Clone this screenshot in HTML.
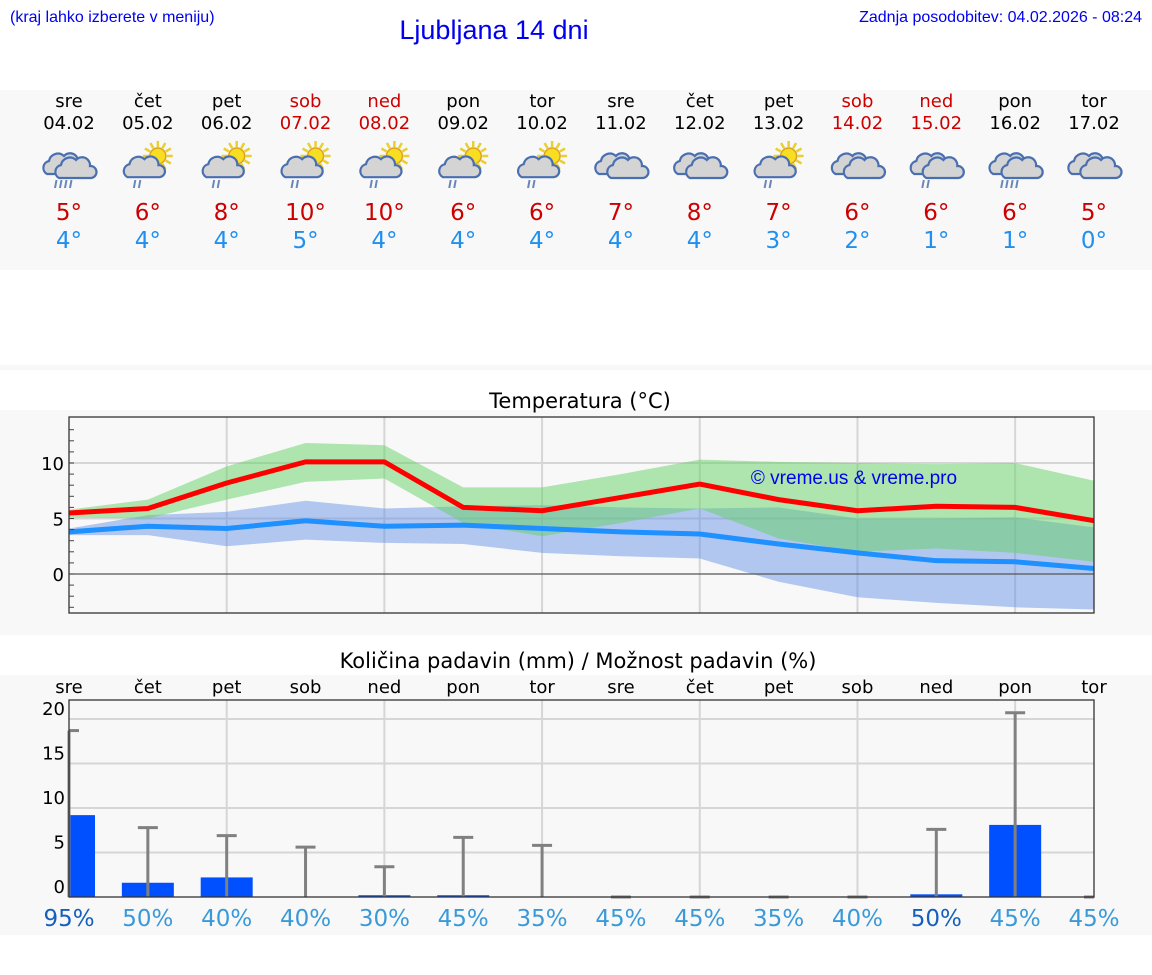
<!DOCTYPE html>
<html><head><meta charset="utf-8">
<style>
body{margin:0;width:1152px;height:975px;background:#fff;overflow:hidden;font-family:"DejaVu Sans","Liberation Sans",sans-serif;}
svg{display:block}
</style></head>
<body>
<svg id="page" width="1152" height="975" xmlns="http://www.w3.org/2000/svg">
<text x="10" y="22" font-family="Liberation Sans" font-size="16" fill="#0000ee">(kraj lahko izberete v meniju)</text>
<text x="494" y="39" text-anchor="middle" font-family="Liberation Sans" font-size="27" fill="#0000ee">Ljubljana 14 dni</text>
<text x="1142" y="22" text-anchor="end" font-family="Liberation Sans" font-size="16" fill="#0000ee">Zadnja posodobitev: 04.02.2026 - 08:24</text>
<rect x="0" y="90" width="1152" height="180" fill="#f8f8f8"/>
<rect x="0" y="365" width="1152" height="5" fill="#f8f8f8"/>
<rect x="0" y="410" width="1152" height="225" fill="#f8f8f8"/>
<rect x="0" y="675" width="1152" height="260" fill="#f8f8f8"/>
<g id="days"></g>
<text x="580" y="408" text-anchor="middle" font-size="21" fill="#000">Temperatura (°C)</text>
<g id="temp"></g>
<text x="578" y="668" text-anchor="middle" font-size="21" fill="#000">Količina padavin (mm) / Možnost padavin (%)</text>
<g id="prec"></g>
</svg>
<script>
const dayNames=["sre","čet","pet","sob","ned","pon","tor","sre","čet","pet","sob","ned","pon","tor"];
const dates=["04.02","05.02","06.02","07.02","08.02","09.02","10.02","11.02","12.02","13.02","14.02","15.02","16.02","17.02"];
const weekend=[0,0,0,1,1,0,0,0,0,0,1,1,0,0];
const icons=["rain","sunrain","sunrain","sunrain","sunrain","sunrain","sunrain","cloud","cloud","sunrain","cloud","rain2","rain","cloud"];
const tMax=[5,6,8,10,10,6,6,7,8,7,6,6,6,5];
const tMin=[4,4,4,5,4,4,4,4,4,3,2,1,1,0];
const redLine=[5.5,5.9,8.2,10.1,10.1,6.0,5.7,6.9,8.1,6.7,5.7,6.1,6.0,4.8];
const blueLine=[3.8,4.3,4.1,4.8,4.3,4.4,4.1,3.8,3.6,2.7,1.9,1.2,1.1,0.5];
const greenHi=[5.8,6.7,9.7,11.8,11.6,7.8,7.8,9.0,10.3,10.1,10.0,9.9,10.0,8.4];
const greenLo=[5.1,5.0,6.7,8.3,8.6,4.6,3.4,4.6,5.9,3.2,2.0,2.3,1.9,1.1];
const blueHi=[4.1,5.3,5.6,6.6,5.9,6.1,6.2,6.0,5.9,6.0,5.0,5.0,5.1,4.2];
const blueLo=[3.5,3.5,2.5,3.1,2.8,2.7,1.9,1.6,1.4,-0.7,-2.1,-2.6,-3.0,-3.2];
const tempTicks=[0,5,10];
const precAmount=[9.2,1.6,2.2,0,0.2,0.2,0,0,0,0,0,0.3,8.1,0];
const precMax=[18.7,7.8,6.9,5.6,3.4,6.7,5.8,0,0,0,0,7.6,20.7,0];
const precProb=[95,50,40,40,30,45,35,45,45,35,40,50,45,45];
const precTicks=[0,5,10,15,20];
const NS="http://www.w3.org/2000/svg";
function mk(p,t,a,txt){const e=document.createElementNS(NS,t);for(const k in a)e.setAttribute(k,a[k]);if(txt!==undefined)e.textContent=txt;p.appendChild(e);return e;}
const X0=69,X1=1094,step=(X1-X0)/13;
const xi=i=>X0+i*step;
const dg=document.getElementById('days');
function cloud(g,cx,cy,s){
 const p="M"+(cx-16*s)+","+(cy+8*s)+" a7,7 0 0 1 2,-13 a9,9 0 0 1 15,-5 a8,8 0 0 1 14,6 a6,6 0 0 1 1,12 z";
 mk(g,'path',{d:p,fill:'#d4d4d4',stroke:'#4a6fb0','stroke-width':2.2});
}
function rain(g,cx,cy,n){for(let k=0;k<n;k++){mk(g,'line',{x1:cx-6+k*5+1.5,y1:cy,x2:cx-6+k*5,y2:cy+8,stroke:'#6a86b8','stroke-width':2});}}
function sun(g,cx,cy){for(let a=0;a<360;a+=30){const r=a*Math.PI/180;mk(g,'line',{x1:cx+Math.cos(r)*9,y1:cy+Math.sin(r)*9,x2:cx+Math.cos(r)*15,y2:cy+Math.sin(r)*15,stroke:'#e8d030','stroke-width':2.5});}mk(g,'circle',{cx:cx,cy:cy,r:8,fill:'#f8de20',stroke:'#e0a020','stroke-width':1.5});}
for(let i=0;i<14;i++){
 const x=xi(i);const g=mk(dg,'g',{});
 
 
 const c=weekend[i]?'#cc0000':'#000';
 mk(g,'text',{x:x,y:107,'text-anchor':'middle','font-size':18,fill:c},dayNames[i]);
 mk(g,'text',{x:x,y:129,'text-anchor':'middle','font-size':18,fill:c},dates[i]);
 const ic=mk(g,'g',{});
 
 
 const t=icons[i];
 if(t=='sunrain'){sun(ic,x+10,156);cloud(ic,x-6,170,0.9);rain(ic,x-8,180,2);}
 else if(t=='cloud'){cloud(ic,x-6,166,1);cloud(ic,x+6,170,1);}
 else {cloud(ic,x-6,166,1);cloud(ic,x+6,170,1);rain(ic,x-8,180,t=='rain2'?2:4);}
 mk(g,'text',{x:x,y:220,'text-anchor':'middle','font-size':23,fill:'#cc0000'},tMax[i]+'°');
 mk(g,'text',{x:x,y:248,'text-anchor':'middle','font-size':23,fill:'#2090f0'},tMin[i]+'°');
}
const tg=document.getElementById('temp');
const TT=417,TB=613;const ty=v=>574-11.1*v;
mk(tg,'rect',{x:X0,y:TT,width:X1-X0,height:TB-TT,fill:'#f8f8f8'});
for(let i=2;i<13;i+=2)mk(tg,'line',{x1:xi(i),y1:TT,x2:xi(i),y2:TB,stroke:'#d6d6d6','stroke-width':2});
for(const v of [5,10])mk(tg,'line',{x1:X0,y1:ty(v),x2:X1,y2:ty(v),stroke:'#d6d6d6','stroke-width':2});
function band(hi,lo,fill,name){let d='';for(let i=0;i<14;i++)d+=(i?'L':'M')+xi(i)+','+ty(hi[i]);for(let i=13;i>=0;i--)d+='L'+xi(i)+','+ty(lo[i]);const p=mk(tg,'path',{d:d+'Z',fill:fill});}
band(blueHi,blueLo,'rgba(90,140,230,0.45)','min-temp-range');
band(greenHi,greenLo,'rgba(100,210,100,0.5)','max-temp-range');
mk(tg,'line',{x1:X0,y1:ty(0),x2:X1,y2:ty(0),stroke:'#555','stroke-width':1.3});
function line(v,col,name){const p=mk(tg,'polyline',{points:v.map((y,i)=>xi(i)+','+ty(y)).join(' '),fill:'none',stroke:col,'stroke-width':5,'stroke-linejoin':'round'});}
line(redLine,'#ff0000','max-temp-line');
line(blueLine,'#1e90ff','min-temp-line');
mk(tg,'text',{x:854,y:484,'text-anchor':'middle','font-family':'Liberation Sans','font-size':19,fill:'#0000ee'},'© vreme.us & vreme.pro');
mk(tg,'rect',{x:X0,y:TT,width:X1-X0,height:TB-TT,fill:'none',stroke:'#333','stroke-width':1.3});
for(let v=-3;v<=13;v++){mk(tg,'line',{x1:X0,y1:ty(v),x2:X0+5,y2:ty(v),stroke:'#444','stroke-width':1});}
for(const v of tempTicks){const t=mk(tg,'text',{x:X0-5,y:ty(v)+7,'text-anchor':'end','font-size':18,fill:'#000'},String(v));}
const pg=document.getElementById('prec');
const PT=700,PB=897;const py=v=>PB-8.9*v;
mk(pg,'rect',{x:X0,y:PT,width:X1-X0,height:PB-PT,fill:'#f8f8f8'});
for(let i=2;i<13;i+=2)mk(pg,'line',{x1:xi(i),y1:PT,x2:xi(i),y2:PB,stroke:'#d6d6d6','stroke-width':2});
for(const v of precTicks){if(v>0)mk(pg,'line',{x1:X0,y1:py(v),x2:X1,y2:py(v),stroke:'#d6d6d6','stroke-width':2});
 const t=mk(pg,'text',{x:X0-4,y:py(v)-4,'text-anchor':'end','font-size':18,fill:'#000'},String(v));}
for(let i=0;i<14;i++){
 const x=xi(i);
 const dn=mk(pg,'text',{x:x,y:693,'text-anchor':'middle','font-size':18,fill:'#000'},dayNames[i]);
 
 
 if(precAmount[i]>0){let bx=x-26,bw=52;if(bx<X0){bw-=X0-bx;bx=X0;}if(bx+bw>X1)bw=X1-bx;
  const b=mk(pg,'rect',{x:bx,y:py(precAmount[i]),width:bw,height:PB-py(precAmount[i]),fill:'#0050ff'});
  
  }
 const w=mk(pg,'g',{});
 
 
 mk(w,'line',{x1:x,y1:PB,x2:x,y2:py(precMax[i]),stroke:'#808080','stroke-width':3});
 mk(w,'line',{x1:Math.max(X0,x-10),y1:py(precMax[i]),x2:Math.min(X1,x+10),y2:py(precMax[i]),stroke:'#808080','stroke-width':3});
 const pc=mk(pg,'text',{x:x,y:926,'text-anchor':'middle','font-size':23,fill:precProb[i]>=50&&i!=1?'#1560bd':'#3a9ad9'},precProb[i]+'%');
 
 
}
mk(pg,'rect',{x:X0,y:PT,width:X1-X0,height:PB-PT,fill:'none',stroke:'#333','stroke-width':1.3});
</script>
</body></html>
